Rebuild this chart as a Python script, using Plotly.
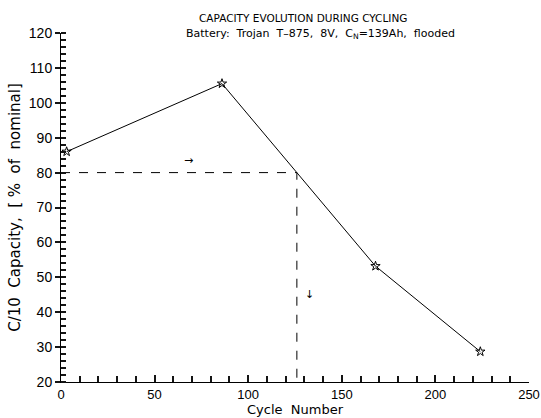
import plotly.graph_objects as go

cycles = [3, 86, 168, 224]
capacity = [86.0, 105.5, 53.2, 28.7]
threshold_capacity = 80
threshold_cycle = 126
x_ticks = [0, 50, 100, 150, 200, 250]
y_ticks = [20, 30, 40, 50, 60, 70, 80, 90, 100, 110, 120]

FONT = "DejaVu Sans"
fig = go.Figure()
fig.add_trace(go.Scatter(x=cycles, y=capacity, mode="lines+markers",
                         line=dict(color="black", width=1),
                         marker=dict(symbol="star-open", size=7, color="black", line=dict(width=1))))
fig.add_trace(go.Scatter(x=[0, threshold_cycle, threshold_cycle], y=[threshold_capacity, threshold_capacity, 20],
                         mode="lines", line=dict(color="black", width=1, dash="dash")))

fig.add_annotation(x=0.5, y=1, xref="paper", yref="paper", yshift=23, xshift=8,
                   text="CAPACITY EVOLUTION DURING CYCLING", showarrow=False,
                   font=dict(family=FONT, size=10.5, color="black"))
fig.add_annotation(x=0.5, y=1, xref="paper", yref="paper", yshift=8, xshift=25,
                   text="Battery:  Trojan  T\u2013875,  8V,  C<sub>N</sub>=139Ah,  flooded", showarrow=False,
                   font=dict(family=FONT, size=11, color="black"))
fig.add_annotation(x=68, y=83.6, text="\u2192", showarrow=False, font=dict(family=FONT, size=11, color="black"))
fig.add_annotation(x=133, y=45.2, text="\u2193", showarrow=False, font=dict(family=FONT, size=11, color="black"))

fig.update_layout(width=541, height=418, showlegend=False, margin=dict(l=61, r=12, t=33, b=36),
                  plot_bgcolor="white", font=dict(family=FONT, size=13, color="black"))
fig.update_xaxes(range=[0, 250], tickvals=x_ticks, ticks="inside", ticklen=7, tickwidth=2, tickcolor="rgb(20,20,20)",
                 showline=True, linecolor="black", automargin=False,
                 tickfont=dict(family="Liberation Sans", size=13),
                 minor=dict(dtick=10, ticks="inside", ticklen=6, tickwidth=2, tickcolor="rgb(20,20,20)"),
                 title=dict(text="Cycle  Number", font=dict(size=13), standoff=4))
fig.update_yaxes(range=[20, 120], tickvals=y_ticks, ticks="outside", ticklen=5, tickwidth=2, tickcolor="rgb(20,20,20)",
                 showline=True, linecolor="black", automargin=False,
                 tickfont=dict(family="Liberation Sans", size=14),
                 minor=dict(dtick=2, ticks="inside", ticklen=5, tickwidth=2, tickcolor="rgb(20,20,20)"),
                 title=dict(text="C/10  Capacity,  [ %  of  nominal]", font=dict(size=15), standoff=4))
fig.write_html("out.html")
